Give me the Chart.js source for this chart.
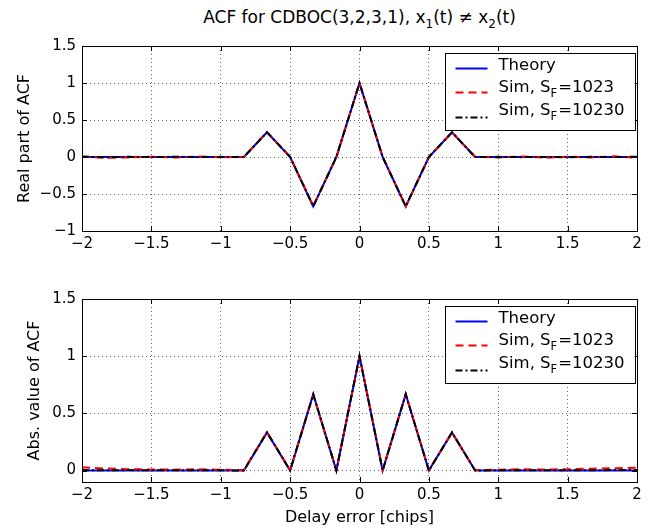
<!DOCTYPE html>
<html><head><meta charset="utf-8">
<script src="https://cdn.jsdelivr.net/npm/chart.js@4"></script>
<style>
html,body{margin:0;padding:0;background:#fff;}
#wrap{position:relative;width:648px;height:531px;overflow:hidden;font-family:"DejaVu Sans",sans-serif;background:#fff;}
#title{position:absolute;left:82px;width:555px;top:7px;text-align:center;font-size:17px;color:#000;line-height:20px;white-space:nowrap;}
#title sub{font-size:12px;vertical-align:-5px;line-height:0;}
canvas{position:absolute;left:0;}
</style></head>
<body><div id="wrap">
<div id="title">ACF for CDBOC(3,2,3,1), x<sub>1</sub>(t) ≠ x<sub>2</sub>(t)</div>
<canvas id="c1" width="648" height="265" style="top:0px;width:648px;height:265px"></canvas>
<canvas id="c2" width="648" height="266" style="top:265px;width:648px;height:266px"></canvas>
</div>
<script>
// ---- data ----
const delayChips = [-2,-1.8333,-1.6667,-1.5,-1.3333,-1.1667,-1,-0.8333,-0.6667,-0.5,-0.3333,-0.1667,0,0.1667,0.3333,0.5,0.6667,0.8333,1,1.1667,1.3333,1.5,1.6667,1.8333,2];
const realTheory   = [0,0,0,0,0,0,0,0,0.3333,0,-0.6667,0,1,0,-0.6667,0,0.3333,0,0,0,0,0,0,0,0];
const realSim1023  = [0.008,-0.012,-0.006,0.004,-0.008,0.006,-0.004,0.002,0.336,0.004,-0.662,-0.003,0.998,0.004,-0.668,-0.003,0.331,0.003,-0.006,0.008,-0.01,0.005,-0.007,0.009,-0.011];
const realSim10230 = [0.004,-0.003,0.002,-0.002,0.003,-0.001,0.002,-0.001,0.334,0.001,-0.666,0.001,1.0,-0.001,-0.667,0.001,0.333,-0.001,0.002,-0.002,0.001,-0.003,0.002,-0.001,0.003];
const absTheory    = [0,0,0,0,0,0,0,0,0.3333,0,0.6667,0,1,0,0.6667,0,0.3333,0,0,0,0,0,0,0,0];
const absSim1023   = [0.028,0.018,0.012,0.01,0.008,0.011,0.007,0.005,0.336,0.004,0.662,0.003,0.998,0.004,0.668,0.003,0.331,0.004,0.008,0.011,0.009,0.012,0.016,0.02,0.024];
const absSim10230  = [0.004,0.003,0.004,0.002,0.003,0.002,0.002,0.001,0.334,0.001,0.666,0.001,1.0,0.001,0.667,0.001,0.333,0.001,0.002,0.002,0.003,0.002,0.003,0.004,0.004];
const xTicks    = [-2,-1.5,-1,-0.5,0,0.5,1,1.5,2];
const realTicks = [-1,-0.5,0,0.5,1,1.5];
const absTicks  = [0,0.5,1,1.5];
const seriesNames = ["Theory", "Sim, S_F=1023", "Sim, S_F=10230"];

// ---- styling ----
const FONT = "'DejaVu Sans', sans-serif";
Chart.defaults.font.family = FONT;
Chart.defaults.color = '#000';
const styles = [
  {color:'#0000ff', dash:[], order:2},
  {color:'#ff0000', dash:[8,5], order:1},
  {color:'#000000', dash:[7,3,2,3], order:0}
];
const fmt = v => String(v).replace('-', '\u2212');
const pts = ys => delayChips.map((x,i)=>({x:x, y:ys[i]}));

function drawLabel(ctx, x, y, text){
  const m = text.match(/^(.*)_(\w)(.*)$/);
  ctx.textAlign='left'; ctx.textBaseline='middle'; ctx.fillStyle='#000';
  const big='16.5px '+FONT, small='11.5px '+FONT;
  if(!m){ ctx.font=big; ctx.fillText(text,x,y); return; }
  ctx.font=big; ctx.fillText(m[1],x,y); x+=ctx.measureText(m[1]).width;
  ctx.font=small; ctx.fillText(m[2],x,y+7); x+=ctx.measureText(m[2]).width+1;
  ctx.font=big; ctx.fillText(m[3],x,y);
}

const frame = {
  id:'frame',
  afterDraw(chart){
    const {ctx, chartArea:a, scales} = chart;
    ctx.save();
    ctx.strokeStyle='#000'; ctx.lineWidth=1; ctx.setLineDash([]);
    ctx.beginPath();
    const L=5;
    scales.x.ticks.forEach(t=>{
      const px=Math.round(scales.x.getPixelForValue(t.value))+0.5;
      ctx.moveTo(px,a.bottom); ctx.lineTo(px,a.bottom-L);
      ctx.moveTo(px,a.top); ctx.lineTo(px,a.top+L);
    });
    scales.y.ticks.forEach(t=>{
      const py=Math.round(scales.y.getPixelForValue(t.value))+0.5;
      ctx.moveTo(a.left,py); ctx.lineTo(a.left+L,py);
      ctx.moveTo(a.right,py); ctx.lineTo(a.right-L,py);
    });
    ctx.stroke();
    ctx.strokeRect(Math.round(a.left)+0.5, Math.round(a.top)+0.5, Math.round(a.right-a.left), Math.round(a.bottom-a.top));
    // legend
    const bw=190, bh=77;
    const bx=Math.round(a.right)-192+0.5, by=Math.round(a.top)+7+0.5;
    ctx.fillStyle='#fff'; ctx.fillRect(bx,by,bw,bh);
    ctx.strokeRect(bx,by,bw,bh);
    const textY=[12,34,57], lineY=[15,39,64];
    seriesNames.forEach((name,i)=>{
      ctx.save();
      ctx.strokeStyle=styles[i].color; ctx.lineWidth=2; ctx.setLineDash(styles[i].dash);
      ctx.beginPath(); ctx.moveTo(bx+10,by+lineY[i]); ctx.lineTo(bx+42,by+lineY[i]); ctx.stroke();
      ctx.restore();
      drawLabel(ctx, bx+53, by+textY[i], name);
    });
    ctx.restore();
  }
};

function makeChart(canvasId, ys, yMin, yMax, yTicks, yTitle, yTitlePad, xHeight, padTop, xTitle){
  const datasets = ys.map((arr,i)=>({
    label: seriesNames[i].replace('_',''),
    data: pts(arr),
    borderColor: styles[i].color,
    borderWidth: 2,
    borderDash: styles[i].dash,
    pointRadius: 0,
    tension: 0,
    fill: false,
    order: styles[i].order
  }));
  return new Chart(document.getElementById(canvasId), {
    type:'line',
    data:{datasets},
    options:{
      responsive:false, animation:false, events:[],
      layout:{padding:{left:0, right:11, top:padTop, bottom:0}},
      plugins:{legend:{display:false}, tooltip:{enabled:false}, title:{display:false}},
      scales:{
        x:{
          type:'linear', min:-2, max:2,
          afterBuildTicks: s => { s.ticks = xTicks.map(v=>({value:v})); },
          afterFit: s => { s.height = xHeight; },
          ticks:{autoSkip:false, maxRotation:0, padding:4, font:{size:15}, callback:v=>fmt(v)},
          grid:{color:'rgba(0,0,0,0.6)', drawTicks:false, lineWidth:1},
          border:{display:false, dash:[1,3]},
          title:{display:!!xTitle, text:xTitle||'', font:{size:16}, padding:{top:0,bottom:4}}
        },
        y:{
          type:'linear', min:yMin, max:yMax,
          afterBuildTicks: s => { s.ticks = yTicks.map(v=>({value:v})); },
          afterFit: s => { s.width = 82; },
          ticks:{autoSkip:false, padding:6, font:{size:15}, callback:v=>fmt(v)},
          grid:{color:'rgba(0,0,0,0.6)', drawTicks:false, lineWidth:1},
          border:{display:false, dash:[1,3]},
          title:{display:true, text:yTitle, font:{size:16}, padding:{top:yTitlePad,bottom:0}}
        }
      }
    },
    plugins:[frame]
  });
}

makeChart('c1', [realTheory, realSim1023, realSim10230], -1, 1.5, realTicks, 'Real part of ACF', 15, 34, 46, null);
makeChart('c2', [absTheory, absSim1023, absSim10230], -0.1, 1.5, absTicks, 'Abs. value of ACF', 25, 49, 34, 'Delay error [chips]');
</script>
</body></html>
